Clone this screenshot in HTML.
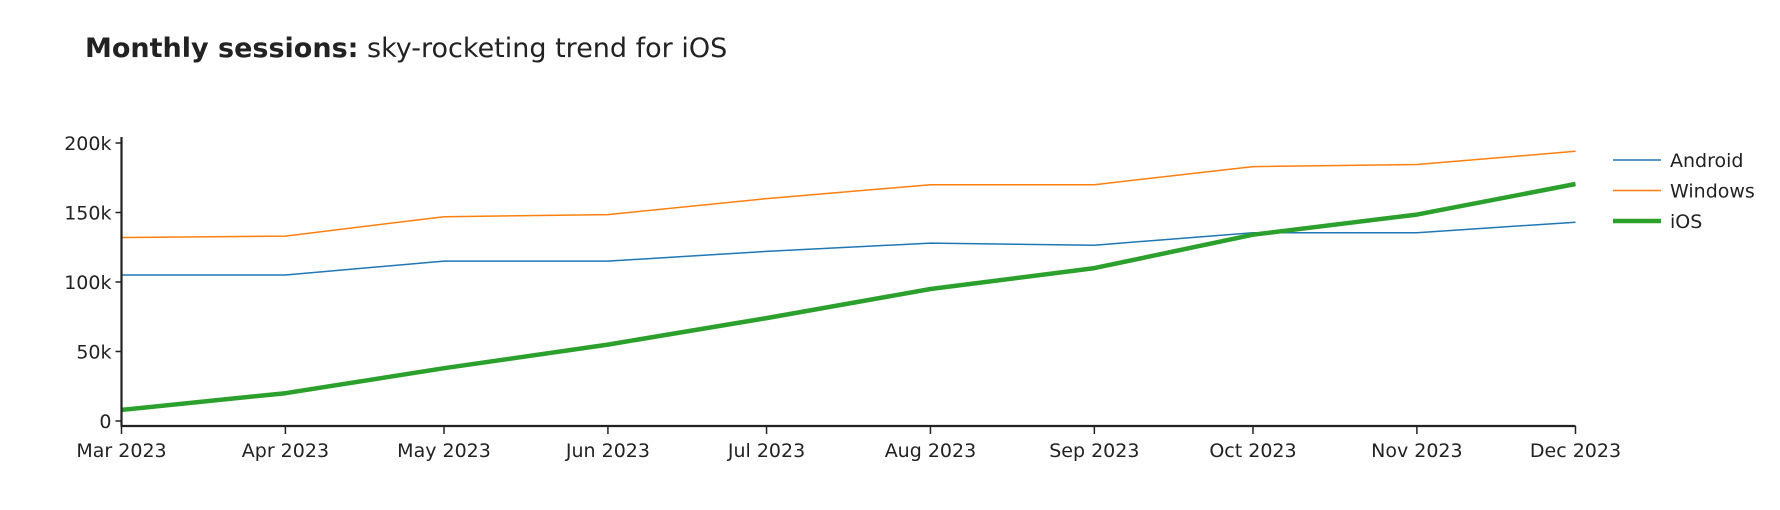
<!DOCTYPE html>
<html><head><meta charset="utf-8"><style>
html,body{margin:0;padding:0;background:#fff;}
svg{display:block;font-family:"DejaVu Sans","Liberation Sans",sans-serif;}
</style></head><body>
<svg id="chart" width="1780" height="510" viewBox="0 0 1780 510" xmlns="http://www.w3.org/2000/svg">
<text x="85" y="57" font-size="27" fill="#222"><tspan font-weight="bold">Monthly sessions:</tspan> sky-rocketing trend for iOS</text>
</svg>
<script>
const months = ["2023-03-01","2023-04-01","2023-05-01","2023-06-01","2023-07-01","2023-08-01","2023-09-01","2023-10-01","2023-11-01","2023-12-01"];
const monthLabels = ["Mar 2023","Apr 2023","May 2023","Jun 2023","Jul 2023","Aug 2023","Sep 2023","Oct 2023","Nov 2023","Dec 2023"];
const android = [105000,105000,115000,115000,122000,128000,126500,135500,135500,143000];
const windows = [132000,133000,147000,148500,160000,170000,170000,183000,184500,194000];
const ios = [8000,20000,38000,55000,74000,95000,110000,134000,148500,170500];
const yTicks = [0,50000,100000,150000,200000];
const yTickLabels = ["0","50k","100k","150k","200k"];
const seriesNames = ["Android","Windows","iOS"];

const NS="http://www.w3.org/2000/svg";
const svg=document.getElementById('chart');
const X0=121.5,X1=1575.5,Y0=421,Y1=143;
const t0=Date.parse(months[0]),t1=Date.parse(months[months.length-1]);
function xs(d){return X0+(Date.parse(d)-t0)/(t1-t0)*(X1-X0);}
function ys(v){return Y0-(v/200000)*(Y0-Y1);}
function mk(tag,attrs){const e=document.createElementNS(NS,tag);for(const k in attrs)e.setAttribute(k,attrs[k]);svg.appendChild(e);return e;}

const cols=["#1f77b4","#ff7f0e","#2ca02c"],widths=[1.5,1.5,4.5];
[android,windows,ios].forEach((s,i)=>{
  const p=mk('polyline',{points:s.map((v,j)=>xs(months[j]).toFixed(1)+','+ys(v).toFixed(1)).join(' '),fill:'none',stroke:cols[i],'stroke-width':widths[i],'stroke-linejoin':'round'});
  
  
});

const ya=mk('line',{x1:X0,y1:Y1-6,x2:X0,y2:Y0+5,stroke:'#222','stroke-width':2.2});


const xa=mk('line',{x1:X0-1,y1:Y0+5,x2:X1,y2:Y0+5,stroke:'#222','stroke-width':2.2});



yTicks.forEach((v,i)=>{
  const y=ys(v);
  const t=mk('line',{x1:X0-6,y1:y,x2:X0,y2:y,stroke:'#222','stroke-width':1.5});
  
  
  const l=mk('text',{x:X0-10,y:y+7,'text-anchor':'end','font-size':19,fill:'#222'});
  l.textContent=yTickLabels[i];
  
  
});
months.forEach((m,i)=>{
  const x=xs(m);
  const t=mk('line',{x1:x,y1:Y0+5,x2:x,y2:Y0+13,stroke:'#222','stroke-width':1.5});
  
  
  const l=mk('text',{x:x,y:Y0+36,'text-anchor':'middle','font-size':19,fill:'#222'});
  l.textContent=monthLabels[i];
  
  
});

seriesNames.forEach((n,i)=>{
  const y=160+i*30.5;
  const ln=mk('line',{x1:1613,y1:y,x2:1661,y2:y,stroke:cols[i],'stroke-width':widths[i]});
  
  
  const tx=mk('text',{x:1670,y:y+7,'font-size':19,fill:'#222'});
  tx.textContent=n;
  
  
});
</script>
</body></html>
